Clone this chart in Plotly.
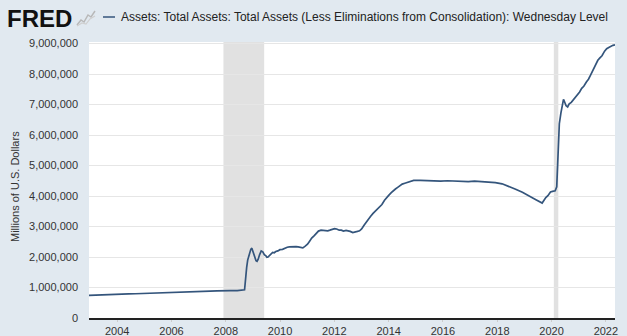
import plotly.graph_objects as go

# ---- data (millions of U.S. dollars) ----
dates = [
    "2002-12-18", "2003-03-05", "2003-06-04", "2003-09-03", "2003-12-03",
    "2004-03-03", "2004-06-02", "2004-09-01", "2004-12-01",
    "2005-03-02", "2005-06-01", "2005-09-07", "2005-12-07",
    "2006-03-01", "2006-06-07", "2006-09-06", "2006-12-06",
    "2007-03-07", "2007-06-06", "2007-09-05", "2007-12-05", "2007-12-26",
    "2008-01-09", "2008-03-05", "2008-06-04", "2008-08-27", "2008-09-10",
    "2008-09-17", "2008-09-24", "2008-10-08", "2008-10-22", "2008-11-05",
    "2008-11-19", "2008-12-03", "2008-12-17",
    "2009-01-07", "2009-01-21", "2009-02-11", "2009-02-25", "2009-03-11",
    "2009-04-01", "2009-04-22", "2009-05-13", "2009-06-03", "2009-06-24",
    "2009-07-08", "2009-07-22", "2009-08-12", "2009-09-02", "2009-09-23",
    "2009-10-14", "2009-11-04", "2009-12-02", "2009-12-30",
    "2010-02-03", "2010-03-03", "2010-04-07", "2010-05-05", "2010-06-02",
    "2010-07-07", "2010-08-04", "2010-09-01", "2010-10-06", "2010-11-03",
    "2010-12-01",
    "2011-01-05", "2011-02-02", "2011-03-02", "2011-04-06", "2011-05-04",
    "2011-06-01", "2011-07-06", "2011-08-03", "2011-09-07", "2011-10-05",
    "2011-11-02", "2011-12-07",
    "2012-01-04", "2012-02-01", "2012-03-07", "2012-04-04", "2012-05-02",
    "2012-06-06", "2012-07-04", "2012-08-01", "2012-09-05", "2012-10-03",
    "2012-11-07", "2012-12-05",
    "2013-01-02", "2013-02-06", "2013-03-06", "2013-04-03", "2013-05-01",
    "2013-06-05", "2013-07-03", "2013-08-07", "2013-09-04", "2013-10-02",
    "2013-11-06", "2013-12-04",
    "2014-01-01", "2014-02-05", "2014-03-05", "2014-04-02", "2014-05-07",
    "2014-06-04", "2014-07-02", "2014-08-06", "2014-09-03", "2014-10-01",
    "2014-11-05", "2014-12-03",
    "2015-03-04", "2015-06-03", "2015-09-02", "2015-12-02",
    "2016-03-02", "2016-06-01", "2016-09-07", "2016-12-07",
    "2017-03-01", "2017-06-07", "2017-09-06", "2017-12-06",
    "2018-03-07", "2018-06-06", "2018-09-05", "2018-12-05",
    "2019-03-06", "2019-06-05", "2019-08-28", "2019-09-18", "2019-10-16",
    "2019-11-13", "2019-12-18",
    "2020-01-15", "2020-02-19", "2020-03-11", "2020-03-18", "2020-03-25",
    "2020-04-01", "2020-04-15", "2020-05-06", "2020-05-27", "2020-06-10",
    "2020-06-24", "2020-07-15", "2020-08-05", "2020-08-26", "2020-09-23",
    "2020-10-21", "2020-11-18", "2020-12-16",
    "2021-01-13", "2021-02-10", "2021-03-10", "2021-04-14", "2021-05-12",
    "2021-06-09", "2021-07-14", "2021-08-11", "2021-09-15", "2021-10-13",
    "2021-11-10", "2021-12-15",
    "2022-01-12", "2022-02-09", "2022-03-09", "2022-04-06", "2022-05-04",
]
assets = [
    745000, 748000, 755000, 762000, 770000,
    778000, 788000, 795000, 805000,
    815000, 828000, 838000, 848000,
    852000, 860000, 866000, 872000,
    878000, 884000, 890000, 896000, 915000,
    900000, 895000, 898000, 905000, 925000,
    1100000, 1400000, 1650000, 1900000, 2050000,
    2200000, 2250000, 2290000,
    2150000, 2000000, 1880000, 1860000, 1920000,
    2080000, 2200000, 2170000, 2080000, 2040000,
    1990000, 2000000, 2060000, 2100000, 2150000,
    2140000, 2180000, 2200000, 2240000,
    2250000, 2290000, 2320000, 2330000, 2340000,
    2350000, 2340000, 2330000, 2310000, 2300000,
    2350000,
    2420000, 2520000, 2620000, 2700000, 2780000,
    2850000, 2880000, 2870000, 2880000, 2860000,
    2880000, 2920000,
    2930000, 2920000, 2880000, 2880000, 2850000,
    2870000, 2860000, 2840000, 2800000, 2810000,
    2840000, 2860000,
    2920000, 3050000, 3150000, 3250000, 3330000,
    3430000, 3500000, 3580000, 3650000, 3720000,
    3860000, 3950000,
    4020000, 4110000, 4180000, 4230000, 4290000,
    4340000, 4390000, 4420000, 4440000, 4470000,
    4490000, 4510000,
    4510000, 4500000, 4500000, 4490000,
    4500000, 4490000, 4480000, 4470000,
    4490000, 4480000, 4470000, 4440000,
    4400000, 4320000, 4220000, 4120000,
    3990000, 3880000, 3770000, 3860000, 3950000,
    4010000, 4130000,
    4150000, 4170000, 4300000, 4670000, 5300000,
    5820000, 6370000, 6720000, 7000000, 7170000,
    7090000, 6960000, 6920000, 7020000, 7070000,
    7150000, 7240000, 7330000,
    7410000, 7530000, 7600000, 7740000, 7830000,
    7960000, 8150000, 8250000, 8450000, 8530000,
    8600000, 8750000,
    8830000, 8870000, 8910000, 8940000, 8960000,
]
recession_starts = ["2007-12-01", "2020-02-01"]
recession_ends = ["2009-06-01", "2020-04-01"]
y_ticks = [0, 1000000, 2000000, 3000000, 4000000, 5000000,
           6000000, 7000000, 8000000, 9000000]
series_title = ("Assets: Total Assets: Total Assets (Less Eliminations "
                "from Consolidation): Wednesday Level")
y_title = "Millions of U.S. Dollars"

# ---- layout geometry ----
W, H = 627, 336
ML, MR, MT, MB = 89, 12, 42, 18
PW, PH = W - ML - MR, H - MT - MB


def px(x):
    return (x - ML) / PW


def py(y):
    return (H - MB - y) / PH


LINE = "#34557c"
FONT = "Liberation Sans, Arial, sans-serif"

fig = go.Figure()
fig.add_trace(go.Scatter(
    x=dates, y=assets, mode="lines",
    line=dict(color=LINE, width=1.7),
    hoverinfo="skip", showlegend=False,
))

shapes = []
for s, e in zip(recession_starts, recession_ends):
    shapes.append(dict(type="rect", xref="x", yref="paper", x0=s, x1=e,
                       y0=0, y1=1, fillcolor="#e1e1e1", line=dict(width=0),
                       layer="between"))
# legend dash
shapes.append(dict(type="line", xref="paper", yref="paper",
                   x0=px(103), x1=px(115), y0=py(17), y1=py(17),
                   line=dict(color=LINE, width=1.5)))
# small FRED graph icon
shapes.append(dict(type="path", xref="paper", yref="paper",
                   path=(f"M{px(77)},{py(25)} L{px(81)},{py(20)} L{px(84)},{py(22)} "
                         f"L{px(88)},{py(15)} L{px(91)},{py(17)} L{px(95)},{py(11)}"),
                   line=dict(color="#b8b8b8", width=1.5)))
shapes.append(dict(type="path", xref="paper", yref="paper",
                   path=(f"M{px(77)},{py(26)} L{px(82)},{py(23)} L{px(86)},{py(24)} "
                         f"L{px(90)},{py(19)} L{px(95)},{py(16)}"),
                   line=dict(color="#cfcfcf", width=1.2)))

annotations = [
    dict(text="<b>FRED</b>", xref="paper", yref="paper", x=px(5), y=py(18),
         xanchor="left", yanchor="middle", showarrow=False,
         font=dict(family=FONT, size=24, color="#111111")),
    dict(text=series_title, xref="paper", yref="paper", x=px(119), y=py(17),
         xanchor="left", yanchor="middle", showarrow=False,
         font=dict(family=FONT, size=12, color="#222222")),
    dict(text=y_title, xref="paper", yref="paper", x=px(15), y=py(187),
         xanchor="center", yanchor="middle", textangle=-90, showarrow=False,
         font=dict(family=FONT, size=11, color="#333333")),
]

fig.update_layout(
    width=W, height=H,
    margin=dict(l=ML, r=MR, t=MT, b=MB, pad=0, autoexpand=False),
    paper_bgcolor="#e1e9f0",
    plot_bgcolor="#ffffff",
    font=dict(family=FONT, size=11, color="#333333"),
    shapes=shapes,
    annotations=annotations,
    xaxis=dict(
        type="date", automargin=False,
        range=["2002-12-18", "2022-05-04"],
        tick0="2004-01-01", dtick="M24", tickformat="%Y",
        showgrid=False, zeroline=False,
        showline=True, linecolor="#222222", linewidth=2,
        ticks="outside", ticklen=2, tickcolor="#cccccc", tickwidth=1,
        tickfont=dict(family=FONT, size=11, color="#333333"),
    ),
    yaxis=dict(
        automargin=False,
        range=[0, 9050000],
        tickvals=y_ticks, tickformat=",d",
        showgrid=True, gridcolor="#e6e6e6", gridwidth=1,
        zeroline=False, showline=False, ticks="",
        ticklabelstandoff=10,
        tickfont=dict(family=FONT, size=11, color="#333333"),
    ),
)

fig.write_html("out.html")
